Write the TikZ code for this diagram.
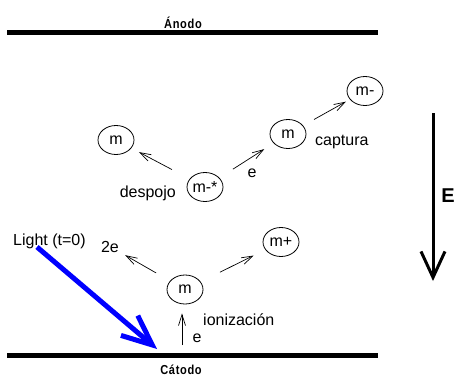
\documentclass[tikz,border=0pt]{standalone}
\usepackage{fontspec}
\setmainfont{Liberation Sans}
\newfontfamily\rotfont[LetterSpace=5,FakeStretch=0.85]{Liberation Sans}
\usetikzlibrary{shapes.geometric,arrows.meta}

\tikzset{
  molec/.style={draw, ellipse, line width=0.8pt, minimum width=36pt, minimum height=29pt, inner sep=0pt, font=\fontsize{16}{18}\selectfont},
  etiq/.style={inner sep=0pt, font=\fontsize{16}{18}\selectfont},
  paso/.style={line width=0.7pt, -{Straight Barb[length=11pt,width=7pt]}},
  placa/.style={line width=4.5pt},
  rotulo/.style={inner sep=0pt, anchor=base, font=\rotfont\bfseries\fontsize{13}{13}\selectfont}
}

\begin{document}
\begin{tikzpicture}[x=1pt,y=-1pt]
\useasboundingbox (0,0) rectangle (455,376);

% electrodos
\draw[placa] (7,32.5) -- (378,32.5);
\draw[placa] (7,355.5) -- (378,355.5);
\node[rotulo] (anodo) at (183,28) {Ánodo};
\node[rotulo] (catodo) at (181,374) {Cátodo};

% moleculas
\node[molec] (mmenos) at (365,91) {m-};
\node[molec] (mcap) at (288,134) {m};
\node[molec] (mizq) at (116,140) {m};
\node[molec] (mstar) at (205,187) {m-*};
\node[molec] (mmas) at (281,242) {m+};
\node[molec] (mion) at (185,289.5) {m};

% textos
\node[etiq, anchor=base west] (captura) at (315,145) {captura};
\node[etiq, anchor=base east] (despojo) at (176,197) {despojo};
\node[etiq, anchor=base] (e1) at (252,177) {e};
\node[etiq, anchor=base west] (light) at (13,245) {Light (t=0)};
\node[etiq, anchor=base] (dose) at (110,252) {2e};
\node[etiq, anchor=base west] (ioniz) at (203,325) {ionización};
\node[etiq, anchor=base] (e2) at (197,342) {e};

\draw[paso, shorten <=12.5pt, shorten >=4.5pt] (mcap) -- (mmenos);
\draw[paso, shorten <=20pt, shorten >=8.5pt] (mstar) -- (mizq);
\draw[paso, shorten <=16pt, shorten >=11pt] (mstar) -- (mcap);
\draw[paso, shorten <=16pt, shorten >=7pt] (mion) -- (dose);
\draw[paso, shorten <=21.5pt, shorten >=13pt] (mion) -- (mmas);
\coordinate (emision) at (182,355.5);
\draw[paso, shorten <=10.5pt, shorten >=9pt] (emision) -- (emision |- mion.south);

% luz
\coordinate (impacto) at (157,349);
\draw[blue, line width=5pt, -{Straight Barb[length=30pt,width=26pt]}] ([shift={(24pt,-2pt)}]light.base west) -- (impacto);

% campo
\coordinate (campoA) at (433,113);
\coordinate (campoB) at (433,281);
\draw[line width=3pt, -{Straight Barb[length=26pt,width=24pt]}] (campoA) -- (campoB);
\node[inner sep=0pt, anchor=base east, font=\fontsize{20}{20}\selectfont\bfseries] (campoE) at (455,202) {E};
\end{tikzpicture}
\end{document}
